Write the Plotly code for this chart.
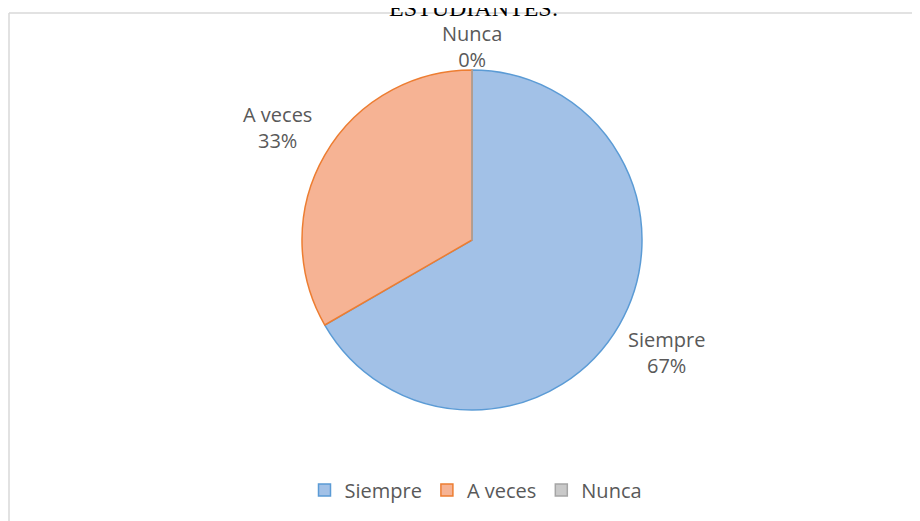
import math
import plotly.graph_objects as go

# respuestas de los estudiantes
categorias = ["Siempre", "A veces", "Nunca"]
respuestas = [2, 1, 0]

colores_relleno = ["#A2C1E7", "#F6B394", "#C9C9C9"]
colores_borde = ["#5B9BD5", "#ED7D31", "#A5A5A5"]

W, H = 920, 521
# centro y radio del pastel (pixeles de la figura)
CX, CY, R = 464, 232, 170


def px(x):
    return x / W


def py(y):
    return 1 - y / H


fig = go.Figure()
fig.add_trace(go.Pie(
    labels=categorias,
    values=respuestas,
    sort=False,
    direction="clockwise",
    rotation=0,
    marker=dict(colors=colores_relleno, line=dict(color=colores_borde, width=1.5)),
    textinfo="none",
    domain=dict(x=[px(CX - R), px(CX + R)], y=[py(CY + R), py(CY - R)]),
    hoverinfo="label+percent",
))

# etiquetas fuera del pastel, en el angulo medio de cada porcion
total = sum(respuestas)
acum = 0
for cat, val in zip(categorias, respuestas):
    medio = (acum + val / 2) / total * 2 * math.pi
    acum += val
    dx, dy = math.sin(medio), -math.cos(medio)
    ext = 44 * abs(dx) + 14 * abs(dy)
    d = R + 10 + ext
    fig.add_annotation(
        text=f"{cat}<br>{round(val / total * 100)}%",
        x=px(CX + d * dx), y=py(CY + d * dy), xref="paper", yref="paper",
        xanchor="center", yanchor="middle", showarrow=False,
        font=dict(family="Open Sans", size=20, color="#595959"),
    )

# titulo cortado arriba
fig.add_annotation(
    text="ESTUDIANTES:", x=px(466), y=py(15), xref="paper", yref="paper",
    xanchor="center", yanchor="bottom", showarrow=False,
    font=dict(family="Liberation Serif", size=24, color="#000000"),
)

# borde del area del grafico
fig.add_shape(type="line", xref="paper", yref="paper",
              x0=px(1), x1=1, y0=py(5), y1=py(5),
              line=dict(color="#D9D9D9", width=1.5))
fig.add_shape(type="line", xref="paper", yref="paper",
              x0=px(1), x1=px(1), y0=0, y1=py(5),
              line=dict(color="#D9D9D9", width=1.5))

fig.update_layout(
    width=W, height=H,
    margin=dict(l=0, r=0, t=0, b=0),
    paper_bgcolor="white",
    plot_bgcolor="white",
    showlegend=True,
    legend=dict(orientation="h", x=px(468), xanchor="center", y=py(482), yanchor="middle",
                font=dict(family="Open Sans", size=20, color="#595959"),
                itemwidth=30, tracegroupgap=0),
)

fig.write_html("out.html")
